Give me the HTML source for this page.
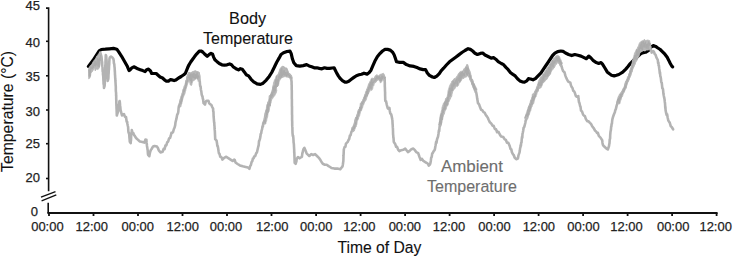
<!DOCTYPE html>
<html><head><meta charset="utf-8"><title>Body and Ambient Temperature</title>
<style>
html,body{margin:0;padding:0;background:#fff;}
body{width:733px;height:258px;overflow:hidden;}
svg{display:block;}
text{font-family:"Liberation Sans",sans-serif;}
</style></head><body>
<svg width="733" height="258" viewBox="0 0 733 258">
<g stroke="#111" stroke-width="1.6" fill="none" stroke-linecap="butt">
<path d="M46,8.1 H48.6 V191.3"/>
<path d="M48.2,202.7 V213"/>
<path d="M46,41.3 H48.6"/>
<path d="M46,75.8 H48.6"/>
<path d="M46,110.0 H48.6"/>
<path d="M46,143.7 H48.6"/>
<path d="M46,178.5 H48.6"/>
</g>
<path d="M47.4,213 H717.6" stroke="#111" stroke-width="2" fill="none"/>
<g stroke="#111" stroke-width="1.8" fill="none">
<path d="M49.0,213 V216"/>
<path d="M93.5,213 V216"/>
<path d="M138.0,213 V216"/>
<path d="M182.5,213 V216"/>
<path d="M227.0,213 V216"/>
<path d="M271.5,213 V216"/>
<path d="M316.1,213 V216"/>
<path d="M360.6,213 V216"/>
<path d="M405.1,213 V216"/>
<path d="M449.6,213 V216"/>
<path d="M494.1,213 V216"/>
<path d="M538.6,213 V216"/>
<path d="M583.1,213 V216"/>
<path d="M627.6,213 V216"/>
<path d="M672.1,213 V216"/>
<path d="M716.6,213 V216"/>
</g>
<g stroke="#111" stroke-width="1.3"><path d="M41,197.1 L55.5,191.6"/><path d="M41.6,200.8 L56.3,194.8"/></g>
<g font-family="Liberation Sans, sans-serif" font-size="13" fill="#222" stroke="#222" stroke-width="0.25" text-anchor="end">
<text x="40" y="10.1">45</text>
<text x="40" y="47.4">40</text>
<text x="40" y="81.2">35</text>
<text x="40" y="116.3">30</text>
<text x="40" y="147.7">25</text>
<text x="40" y="181.7">20</text>
</g>
<text x="34.3" y="215.7" font-family="Liberation Sans, sans-serif" font-size="13" fill="#222" stroke="#222" stroke-width="0.25" text-anchor="middle">0</text>
<g font-family="Liberation Sans, sans-serif" font-size="13.4" fill="#222" stroke="#222" stroke-width="0.25" text-anchor="middle">
<text x="47.40" y="230.9" textLength="32.4" lengthAdjust="spacingAndGlyphs">00:00</text>
<text x="91.70" y="230.9" textLength="32.4" lengthAdjust="spacingAndGlyphs">12:00</text>
<text x="137.75" y="230.9" textLength="32.4" lengthAdjust="spacingAndGlyphs">00:00</text>
<text x="182.75" y="230.9" textLength="32.4" lengthAdjust="spacingAndGlyphs">12:00</text>
<text x="226.05" y="230.9" textLength="32.4" lengthAdjust="spacingAndGlyphs">00:00</text>
<text x="272.15" y="230.9" textLength="32.4" lengthAdjust="spacingAndGlyphs">12:00</text>
<text x="316.20" y="230.9" textLength="32.4" lengthAdjust="spacingAndGlyphs">00:00</text>
<text x="359.35" y="230.9" textLength="32.4" lengthAdjust="spacingAndGlyphs">12:00</text>
<text x="404.85" y="230.9" textLength="32.4" lengthAdjust="spacingAndGlyphs">00:00</text>
<text x="449.05" y="230.9" textLength="32.4" lengthAdjust="spacingAndGlyphs">12:00</text>
<text x="494.45" y="230.9" textLength="32.4" lengthAdjust="spacingAndGlyphs">00:00</text>
<text x="538.85" y="230.9" textLength="32.4" lengthAdjust="spacingAndGlyphs">12:00</text>
<text x="583.55" y="230.9" textLength="32.4" lengthAdjust="spacingAndGlyphs">00:00</text>
<text x="626.55" y="230.9" textLength="32.4" lengthAdjust="spacingAndGlyphs">12:00</text>
<text x="673.15" y="230.9" textLength="32.4" lengthAdjust="spacingAndGlyphs">00:00</text>
<text x="715.65" y="230.9" textLength="32.4" lengthAdjust="spacingAndGlyphs">12:00</text>
</g>
<text x="379.4" y="252.5" font-family="Liberation Sans, sans-serif" font-size="16.2" fill="#111" text-anchor="middle" textLength="84" lengthAdjust="spacingAndGlyphs" stroke="#111" stroke-width="0.1">Time of Day</text>
<text transform="translate(12.9,111.4) rotate(-90)" x="0" y="0" font-family="Liberation Sans, sans-serif" font-size="16.2" fill="#111" text-anchor="middle" textLength="121" lengthAdjust="spacingAndGlyphs" stroke="#111" stroke-width="0.1">Temperature (°C)</text>
<text x="247.6" y="24.3" font-family="Liberation Sans, sans-serif" font-size="16.2" fill="#111" text-anchor="middle" textLength="37" lengthAdjust="spacingAndGlyphs" stroke="#111" stroke-width="0.1">Body</text>
<text x="248.0" y="43.5" font-family="Liberation Sans, sans-serif" font-size="16.2" fill="#111" text-anchor="middle" textLength="90" lengthAdjust="spacingAndGlyphs" stroke="#111" stroke-width="0.1">Temperature</text>
<text x="471.9" y="172.1" font-family="Liberation Sans, sans-serif" font-size="16.2" fill="#6e6e6e" text-anchor="middle" textLength="62" lengthAdjust="spacingAndGlyphs" stroke="#6e6e6e" stroke-width="0.1">Ambient</text>
<text x="472.0" y="191.6" font-family="Liberation Sans, sans-serif" font-size="16.2" fill="#6e6e6e" text-anchor="middle" textLength="90" lengthAdjust="spacingAndGlyphs" stroke="#6e6e6e" stroke-width="0.1">Temperature</text>
<polyline points="88.4,66.4 93.1,60.3 99.2,50.8 101.3,49.5 105.3,49.2 109.4,48.8 113.5,48.4 116.8,49.2 118.9,52.2 121.6,56.3 124.3,61 127,65.7 129,70.5 130,70.1 131.9,67.8 133.8,66.8 135.8,67.8 137.7,68.8 140.2,69.7 142.8,70.6 145.1,71.6 146.6,69.7 148.5,69.1 150.5,71 151.7,73.5 153.7,73.5 156.2,73.5 158.1,75.2 160.1,77 162.6,78 164.5,79.9 166.4,81.2 168.4,81.2 170.3,79.6 172.2,79.9 174.1,80.6 176,79.9 178.6,78 181.2,76.5 183.7,74.8 185.3,73.5 187.6,67.8 189,64.8 190.7,62 192.5,59.5 194.6,56.6 196.8,53.8 199.3,51.2 201,51 202.7,52 204.6,54 207.2,56.3 209.1,54.6 211,53.3 212.6,54.2 213.6,57.1 214.9,59.7 216.8,61.4 219.3,63.5 221.9,64.8 224.4,65.2 227,64.8 229.6,63.9 231.5,64.8 233.4,67 236,68.7 238.5,69.9 240.4,68.7 242.3,69.3 244.3,71.9 246.2,74.7 248.6,75.9 251.1,79.3 253.7,81.8 257.1,83.9 260.5,84.4 263.1,83.2 266.3,80.1 269.2,76.4 271.7,72.5 274.3,67.3 276.7,62.2 279.2,57.9 281,54.5 283.5,52.8 287,51.5 290,51.1 291.2,53.7 292.4,58.8 293.8,62.7 296.3,65.6 299.8,66.1 303.2,65.6 306.6,64.6 309.1,65.9 311.7,66.8 314.2,67.8 316.8,67.8 319.3,68.4 321.9,68.8 324.5,67.8 327,68.4 329.6,68.4 332.1,68 334.1,67.8 335.3,70.3 336.6,72.9 338.5,76.1 340.4,78.7 342.4,80.6 344.9,82.1 346.8,82.1 348.8,81.2 351.3,79.3 353.9,77.4 356.4,75.7 359,74.8 361.5,74.2 364,73.2 367.1,74.1 369,72.8 371,70.2 372.9,65.7 374.8,61.3 377.3,56.8 379.9,53.6 382.5,51 385,49.4 387.6,49.4 390.1,50.1 392.4,51.9 394,54.5 395.2,57.8 396.5,61.8 399.6,62.4 403.3,62.4 406.4,64.6 410.1,65.9 413.9,66.4 417,67.6 420.1,68.9 423.2,69.6 425.6,69.6 427.3,73 429.4,75.4 432.5,77 434.3,77.5 436.8,76.1 439.3,73.6 441.1,70.8 443.6,68.2 446.4,65 449.5,61.8 452.6,59.5 455.7,57.2 458.8,54.9 461.9,52.5 465,50.5 468.1,48.7 470.4,49.4 472.7,51 475,53.3 477.4,54.5 480.3,53.4 482.7,53 485,55 488.1,56.5 491.2,58.1 493.5,57.6 495.8,59.2 498.2,61.6 501.3,63.5 503.6,64.7 505.9,67.4 508.2,69.7 510.6,72.8 512.9,74.4 515.2,75.9 517.5,78.7 519.9,80.9 522.2,81.8 524.5,82.1 526.8,80.9 528.4,78.7 530.7,79 533,79.8 535.4,78.6 538.3,75.6 541,72.9 543.3,69.4 545.6,66 548,62.5 550.3,59 552.6,55.5 554.9,53.2 557.7,51.6 560.8,51 563.1,51.4 565.5,53 568.6,54.5 571.7,55.6 574.8,54.5 577.9,55.2 581,56.1 584.1,57.6 586.4,58.7 588.7,56.1 591,58 593.4,60.7 596.3,62.6 598.7,63.4 601,62.6 602.5,64.2 604.9,68 607.2,71.9 609.5,73.8 611.5,75.2 614.2,75.9 616.5,75.3 618.9,74.5 622.7,72.2 625.8,69.1 628.2,66.3 629.7,64.2 633,61 636.5,57.5 640.1,54.2 642.4,52.9 645.5,52.3 648.6,50.3 650.9,47.2 653.3,45.6 655.6,46.4 657.9,48 660.2,49.5 662.6,51.8 664.9,54.2 667.2,57.3 668.8,60.4 670.3,63.5 671.9,66.2 672.6,66.9" fill="none" stroke="#000" stroke-width="3.2" stroke-linejoin="round" stroke-linecap="round"/>
<polyline points="100.2,52.5 101.0,55.0 101.3,56.1 101.5,57.1 101.8,60.0 101.9,62.2 102.1,61.9 102.2,65.1 102.3,66.2 102.5,66.8 102.6,70.0 102.7,71.7 102.9,71.8 103.0,74.8 103.1,75.2 103.3,76.9 103.4,80.0 103.5,81.3 103.6,84.3 103.8,83.5 103.9,85.5 104.0,88.0 104.6,86.0 104.7,84.6 104.8,83.9 104.8,80.8 104.9,78.3 105.0,78.5 105.1,75.0 105.1,71.8 105.2,73.0 105.2,69.4 105.3,67.3 105.3,65.6 105.4,64.6 105.5,64.7 105.5,62.0 105.6,59.2 105.7,58.8 105.7,57.2 105.8,55.0 106.2,56.0 106.3,57.2 106.4,59.4 106.5,59.3 106.6,60.9 106.7,64.0 106.8,64.8 106.9,68.2 107.0,69.2 107.1,70.6 107.2,73.0 107.3,74.9 107.4,76.0 107.5,77.1 107.6,80.4 107.7,81.0 108.3,79.0 108.4,77.9 108.5,74.5 108.6,73.9 108.7,71.9 108.8,70.0 108.9,69.7 109.0,67.6 109.1,64.5 109.2,65.2 109.3,62.0 109.5,58.5 109.8,57.5 111.0,56.5 112.4,57.5 113.4,59.0 113.7,60.4 113.9,63.2 114.2,64.0 114.3,64.4 114.5,67.2 114.6,67.2 114.8,71.0 114.9,72.0 115.0,74.6 115.1,75.6 115.2,78.3 115.3,78.0 115.4,81.0 115.5,82.0 115.6,84.0 115.7,85.6 115.8,86.9 115.8,89.8 115.9,91.8 116.0,92.0 116.1,93.5 116.1,95.8 116.2,95.3 116.2,99.1 116.3,100.0 116.3,102.1 116.4,104.9 116.4,105.9 116.5,105.7 116.5,108.0 116.6,109.5 116.7,112.3 116.7,112.0 116.8,115.5 117.5,113.2 118.2,111.2 118.4,108.4 118.7,106.5 118.9,104.6 119.1,105.3 119.4,101.4 119.6,101.0 119.8,101.9 120.0,104.1 120.1,107.5 120.3,106.5 120.5,109.7 121.0,111.5 121.5,113.7 122.0,115.5 124.0,114.1 125.0,116.9 126.0,117.0 126.4,119.8 126.7,121.7 127.1,121.5 127.4,123.7 127.8,125.7 128.1,127.0 128.3,130.7 128.6,132.7 128.9,133.0 129.1,133.6 129.3,135.4 129.4,137.3 129.6,139.1 129.8,141.7 130.7,143.1 130.8,141.4 131.0,140.2 131.1,137.4 131.2,134.9 131.4,134.7 131.5,132.9 131.7,132.0 131.8,130.1 132.6,133.1 133.3,133.0 134.1,135.1 134.8,135.9 135.6,137.3 137.1,139.1 138.5,140.2 139.9,141.5 141.4,141.7 144.3,142.6 145.4,139.6 146.4,139.7 146.6,142.7 146.8,144.0 147.0,146.0 147.2,147.4 147.3,147.7 147.5,149.4 147.7,150.1 147.9,153.6 148.1,154.8 149.3,156.2 149.9,152.9 150.4,151.1 151.0,149.8 151.6,149.0 153.1,146.4 154.5,146.0 157.0,146.6 157.9,148.0 158.8,150.4 160.5,152.4 162.6,151.7 163.6,148.9 164.6,149.2 165.4,145.6 166.3,145.4 167.2,142.3 168.1,141.6 169.1,138.3 170.1,137.8 170.8,135.7 171.4,132.9 172.1,132.8 173.0,132.2 173.9,129.0 174.6,127.5 175.2,125.2 175.5,122.4 175.8,121.2 176.1,120.0 176.4,118.9 176.8,116.8 177.3,114.3 177.7,113.9 178.0,113.2 178.3,111.8 178.6,108.1 178.9,106.3 179.6,104.4 180.2,102.6 180.9,99.6 181.6,99.4 182.1,96.1 182.6,95.6 183.2,93.2 183.8,91.9 184.4,89.2 185.0,88.1 185.6,87.4 186.1,84.4 186.6,81.3 187.2,80.6 187.7,76.7 188.2,76.0 189.5,73.5 191.0,74.0 192.5,73.0 194.5,72.5 196.5,72.5 198.5,73.0 199.3,76.0 199.4,79.2 199.5,79.4 199.6,81.0 199.8,81.5 200.0,84.6 200.2,86.2 200.6,86.3 200.9,89.7 201.3,91.3 201.7,94.6 202.1,95.9 202.5,96.4 202.8,98.8 203.1,99.0 203.3,101.0 203.6,103.2 205.0,104.6 205.8,101.5 206.7,100.7 208.4,100.7 209.2,103.3 210.1,104.1 211.4,105.0 212.2,107.0 213.1,108.7 213.2,111.3 213.4,111.4 213.5,112.6 213.6,116.2 213.8,118.5 213.9,119.6 214.0,121.1 214.2,122.8 214.3,123.3 214.4,125.9 214.5,125.9 214.6,128.7 214.7,129.9 214.8,130.5 214.9,132.3 215.0,134.9 215.1,136.6 215.2,139.2 216.6,140.7 217.0,143.2 217.3,145.9 217.7,146.0 218.1,148.0 218.6,151.4 219.0,153.5 219.5,153.8 220.2,156.8 221.0,156.7 221.7,157.7 222.4,159.6 223.9,158.1 225.9,156.7 228.3,158.1 230.6,159.6 232.6,161.0 234.1,159.6 234.8,160.1 235.5,162.5 237.6,164.0 239.9,165.4 242.8,166.3 245.7,166.9 248.0,167.4 249.4,168.8 250.2,166.0 250.9,165.0 251.6,162.0 252.3,161.1 252.9,158.5 253.6,158.4 254.2,156.4 255.2,156.2 256.2,153.2 256.9,152.5 257.6,149.5 258.0,147.7 258.3,146.5 258.7,145.2 259.0,141.0 259.4,140.7 259.7,139.5 260.0,138.7 260.4,136.6 260.7,133.9 261.2,133.2 261.6,130.6 262.1,129.1 262.5,126.3 262.9,126.7 263.2,123.4 263.6,122.3 264.1,121.4 264.7,120.0 265.2,116.5 265.6,114.2 266.1,112.3 266.5,110.7 267.0,110.6 267.4,108.2 267.9,105.8 268.5,102.7 269.1,101.9 270.0,100.0 270.7,97.1 271.3,95.5 272.0,95.0 272.5,94.6 273.0,92.5 273.5,88.5 274.0,88.0 274.7,87.1 275.3,85.6 276.0,82.0 276.7,80.9 277.3,78.2 278.0,77.0 279.0,75.2 280.0,73.0 281.0,69.7 282.0,69.0 283.5,67.5 285.0,69.0 286.2,68.8 287.5,72.0 288.5,74.9 289.5,74.5 291.0,76.5 291.2,78.8 291.4,80.3 291.6,82.0 291.6,85.1 291.7,85.0 291.7,88.1 291.7,89.6 291.7,89.1 291.8,90.9 291.8,92.7 291.8,95.0 291.8,95.8 291.8,98.6 291.9,99.2 291.9,101.4 291.9,102.1 291.9,106.4 292.0,106.2 292.0,108.2 292.0,110.0 292.0,112.0 292.0,114.7 292.1,114.7 292.1,118.1 292.1,118.3 292.1,120.1 292.2,121.7 292.2,121.7 292.2,125.0 292.3,126.7 292.4,127.8 292.4,129.2 292.5,132.8 292.8,135.8 293.1,135.6 293.4,138.6 293.5,140.1 293.6,142.6 293.8,143.6 293.9,144.5 294.0,146.7 294.1,148.3 294.2,150.1 294.2,152.5 294.3,151.8 294.4,154.9 294.4,155.5 294.5,157.2 294.6,160.5 294.6,161.2 294.7,162.8 295.7,163.8 296.0,162.4 296.4,161.4 296.7,158.9 298.0,157.0 299.6,158.3 301.5,157.0 301.9,156.8 302.3,153.7 302.6,152.7 303.0,150.8 303.4,149.2 304.4,147.9 305.1,149.6 305.8,151.2 306.6,153.3 307.3,154.1 309.3,156.0 311.2,154.1 313.1,155.0 315.1,154.1 317.0,156.0 318.9,157.9 319.9,159.2 320.9,160.9 321.9,162.5 322.8,163.8 324.8,164.7 326.7,164.7 328.6,166.1 330.1,167.0 331.5,168.0 334.4,168.6 337.4,168.6 340.3,169.2 342.2,166.7 342.5,166.6 342.9,164.2 343.2,162.0 343.3,161.5 343.4,160.0 343.5,155.9 343.5,155.2 343.6,154.7 343.7,152.6 343.8,149.7 344.6,147.0 345.4,146.8 346.0,143.6 346.7,142.9 347.7,141.9 348.4,140.3 349.2,139.0 349.9,135.6 350.6,135.1 351.3,132.2 352.0,131.0 352.6,128.0 353.1,128.6 353.7,126.5 354.3,125.6 354.9,124.2 355.5,121.0 356.2,118.0 356.8,118.1 357.5,115.5 358.2,114.2 359.0,110.6 359.7,110.0 360.3,109.6 360.9,108.3 361.5,105.0 362.3,102.4 363.0,103.2 363.8,100.0 364.5,98.2 365.1,97.0 365.8,95.5 366.5,95.7 367.1,93.6 367.8,91.0 368.5,88.3 369.1,87.8 369.8,86.5 370.6,84.6 371.5,82.5 373.0,80.5 375.0,78.5 377.0,77.2 379.0,77.5 381.0,76.2 383.0,75.5 384.6,78.0 384.7,79.3 384.7,80.7 384.8,83.0 384.8,86.3 384.9,87.4 384.9,87.5 385.0,91.0 385.1,92.3 385.1,92.5 385.1,95.3 385.2,97.9 385.2,99.3 385.3,100.9 386.1,101.4 386.8,104.8 387.8,108.4 388.8,108.7 389.4,108.0 389.8,110.9 390.3,113.5 390.7,113.8 391.2,114.4 391.8,116.9 392.3,119.6 392.4,120.0 392.6,124.4 392.7,124.7 392.8,127.4 392.9,128.1 393.0,131.0 393.1,134.6 393.2,135.1 393.4,137.9 393.5,137.7 393.6,139.0 393.8,141.9 395.2,143.9 396.1,146.8 397.1,146.8 398.1,149.7 399.4,151.2 401.3,150.2 403.2,149.8 405.2,148.6 406.5,150.2 407.9,152.1 409.4,151.2 411.4,149.2 413.3,148.6 414.9,150.2 416.2,152.1 418.2,153.1 418.9,155.3 419.5,157.0 420.7,159.9 422.0,158.9 423.4,160.9 424.9,161.8 426.5,162.8 427.9,163.8 428.8,165.7 429.8,164.7 430.3,163.5 430.8,160.9 431.2,157.6 431.7,157.0 432.2,153.5 432.7,153.1 433.7,151.2 434.6,150.2 434.9,149.2 435.3,146.7 435.6,145.3 436.1,141.9 436.5,142.9 437.0,139.5 437.5,138.0 438.0,136.7 438.5,133.7 438.9,130.4 439.2,131.1 439.6,126.5 440.0,126.0 440.3,125.3 440.6,122.0 440.9,119.8 441.2,118.4 441.6,117.0 442.0,116.6 442.5,112.7 442.9,111.9 443.4,109.1 444.0,108.8 444.6,106.3 445.1,105.6 445.7,102.7 446.4,101.3 447.0,99.4 447.6,99.4 448.2,96.8 448.7,95.6 449.2,94.0 449.8,93.1 450.5,92.1 451.3,88.7 452.0,87.5 452.8,86.0 453.7,83.4 454.5,83.0 456.0,81.0 457.5,80.0 459.0,76.6 460.5,76.5 462.0,73.9 463.5,73.0 464.5,69.6 465.5,69.5 466.4,68.8 467.2,66.5 467.9,68.7 468.5,70.5 469.0,71.3 469.5,74.1 470.0,76.0 470.6,79.5 471.3,80.0 472.0,80.2 472.6,84.2 473.3,84.7 474.0,86.0 474.6,87.7 475.3,89.3 475.7,92.0 476.1,92.1 476.5,94.0 476.9,96.3 477.2,98.6 477.6,100.8 478.0,103.4 478.4,103.3 479.2,104.7 480.0,107.1 481.1,109.8 482.3,110.2 483.5,112.1 484.6,112.6 485.8,115.0 486.9,116.4 487.7,117.6 488.5,119.5 489.9,122.3 491.2,123.4 492.5,125.6 493.6,125.7 494.8,128.9 496.0,129.3 497.1,132.2 498.5,131.9 499.8,134.5 501.1,136.5 502.4,136.8 503.5,137.3 504.7,139.4 505.9,139.9 507.0,142.7 508.4,142.9 509.7,146.0 510.5,148.8 511.3,149.3 511.9,152.2 512.4,153.2 513.0,154.3 513.8,155.2 514.6,157.5 516.2,159.2 517.9,158.5 518.4,155.7 519.0,153.9 519.5,152.6 519.8,150.8 520.1,148.1 520.4,147.5 520.6,145.2 520.9,145.9 521.2,142.7 521.5,142.7 521.7,139.6 522.0,136.9 522.3,137.7 522.5,133.8 522.8,132.8 523.2,130.7 523.6,127.8 524.1,127.4 524.5,126.2 524.9,124.5 525.3,123.0 525.7,120.3 526.1,119.7 526.7,118.0 527.2,114.7 527.8,114.7 528.2,112.3 528.6,110.2 529.0,110.0 529.7,107.7 530.3,104.4 531.0,104.0 531.7,100.4 532.3,99.3 533.0,98.0 533.7,95.6 534.3,95.3 535.0,93.5 535.8,91.9 536.7,91.0 537.5,88.5 538.8,87.3 540.0,85.0 541.2,83.7 542.5,81.0 543.8,80.3 545.0,77.0 546.0,75.1 547.0,74.0 548.2,71.9 549.5,71.0 550.3,71.0 551.2,66.5 552.0,66.0 552.8,65.3 553.7,63.5 554.5,61.5 555.5,58.7 556.5,59.0 557.5,58.0 559.5,60.0 560.0,62.7 560.5,64.5 561.1,65.2 561.6,66.3 562.3,68.9 563.1,71.0 563.8,71.7 564.5,72.3 565.3,75.4 566.0,77.2 567.0,79.4 568.1,81.5 570.3,82.6 571.0,85.5 571.8,87.2 572.5,88.0 573.2,90.6 574.0,91.2 574.7,92.4 575.8,95.9 576.8,96.7 578.3,96.1 578.5,98.8 578.8,100.8 579.0,102.2 579.5,103.2 580.1,106.0 580.5,106.7 581.0,110.6 582.0,111.4 583.1,114.7 584.0,115.6 584.9,116.1 585.8,118.8 587.2,121.2 588.6,121.4 589.9,122.9 591.1,124.0 592.0,125.8 592.8,127.2 593.7,128.2 595.0,130.5 596.2,131.6 597.1,133.0 597.9,132.8 598.8,135.9 600.5,137.6 602.2,140.2 602.5,142.9 602.8,144.4 603.1,145.3 604.8,147.0 606.5,148.7 607.8,149.5 608.4,147.8 609.0,146.1 609.2,144.5 609.5,143.2 609.7,139.5 609.9,139.3 610.1,138.4 610.2,135.1 610.4,132.8 610.5,131.7 610.7,130.8 610.9,129.9 611.2,126.3 611.4,126.4 611.6,123.9 611.9,123.8 612.2,120.5 612.5,118.8 613.1,116.7 613.6,115.3 614.2,113.7 614.8,112.5 615.3,110.1 615.8,109.3 616.3,107.1 616.8,105.0 617.4,103.8 618.0,100.2 618.6,100.0 619.3,97.3 620.0,97.0 620.9,94.3 621.9,94.2 622.8,91.5 623.7,89.1 624.6,88.2 625.5,86.2 626.0,83.0 626.6,81.6 627.2,80.8 627.7,80.0 628.3,79.0 628.9,77.6 629.5,75.9 630.1,73.8 630.6,71.5 631.2,70.8 631.8,69.0 632.3,67.6 632.9,65.6 633.4,62.6 634.0,62.0 634.8,61.3 635.5,58.0 636.2,55.3 636.8,56.3 637.5,53.0 638.5,52.5 639.5,49.0 640.2,45.6 641.0,45.5 642.0,44.1 643.0,43.0 645.0,43.0 647.0,43.0 649.0,43.0 649.6,45.8 650.2,46.4 650.7,50.1 651.2,50.4 651.7,52.6 653.3,51.1 654.0,51.9 654.8,54.2 655.6,54.8 656.4,57.3 657.8,60.0 658.1,63.2 658.4,62.4 658.6,65.3 658.9,65.5 659.2,68.4 659.5,70.2 659.8,73.3 660.0,72.2 660.3,76.2 660.6,76.8 660.9,78.5 661.2,81.4 661.4,82.5 661.7,82.5 662.0,85.1 662.3,88.1 662.6,88.4 662.8,88.5 663.1,90.1 663.4,93.5 663.7,95.2 664.0,96.7 664.2,97.9 664.5,99.0 664.8,101.9 665.0,103.0 665.1,104.6 665.3,108.1 665.4,106.9 665.6,110.3 666.1,112.9 666.6,115.0 667.1,114.3 667.6,117.3 668.3,120.6 669.1,121.7 669.8,122.8 670.8,126.3 671.7,127.0 673.1,129.3" fill="none" stroke="#b3b3b3" stroke-width="2.6" stroke-linejoin="round" stroke-linecap="round"/>
<polygon points="88.6,68.0 89.3,67.1 90.1,65.9 90.9,64.9 91.8,64.5 92.6,62.5 93.4,61.3 94.2,60.2 95.1,59.2 95.9,57.9 96.8,55.9 97.6,55.3 98.5,53.9 99.8,52.0 100.6,54.0 100.6,55.6 100.5,57.3 100.5,57.2 100.5,58.9 100.4,59.8 100.4,62.0 100.2,64.0 100.0,65.1 99.8,66.0 99.2,68.3 97.8,69.6 96.5,68.9 95.2,70.9 94.7,68.7 94.2,68.3 93.2,70.2 91.9,72.2 91.0,72.9 90.7,75.2 90.5,76.4 90.2,77.1 89.9,78.1 88.6,78.8 88.6,77.7 88.6,75.4 88.6,73.8 88.6,73.5 88.6,71.2 88.6,70.1 88.6,68.8 88.6,68.0" fill="#b7b7b7" stroke="#b7b7b7" stroke-width="0.8" stroke-linejoin="round"/>
<polygon points="178.6,107.0 178.9,105.7 179.2,104.7 179.4,104.2 179.7,102.1 180.0,101.0 180.3,99.8 180.6,98.6 181.0,96.4 181.3,95.7 181.7,94.6 182.0,93.0 182.4,92.3 182.8,89.6 183.3,88.8 183.7,87.9 184.1,85.8 184.6,86.0 185.0,84.5 185.4,82.8 185.7,80.6 186.0,81.2 186.3,79.9 186.6,77.7 186.9,76.8 187.3,75.6 187.6,74.2 188.8,72.2 190.5,73.0 192.2,71.8 193.9,71.2 195.2,70.5 196.5,71.2 198.7,72.0 199.1,72.5 199.5,75.0 199.5,76.3 199.6,76.6 199.6,78.1 199.6,80.0 198.2,81.5 197.8,79.7 197.3,79.0 196.1,78.6 194.8,80.0 193.7,80.7 192.5,81.5 192.2,82.7 191.8,84.9 191.5,85.5 190.3,85.0 189.9,83.3 189.5,81.5 188.5,81.5 188.0,82.9 187.6,83.8 187.1,85.0 186.8,86.6 186.4,87.4 186.1,88.3 185.7,91.0 185.4,91.3 185.0,93.6 184.6,94.5 184.1,95.5 183.7,96.4 183.3,97.3 183.0,98.4 182.6,99.8 182.2,100.6 181.9,103.3 181.5,104.0 181.2,105.3 180.8,107.0 178.6,107.0" fill="#b7b7b7" stroke="#b7b7b7" stroke-width="0.8" stroke-linejoin="round"/>
<polygon points="263.0,124.0 263.3,122.7 263.6,121.7 263.8,121.2 264.1,119.1 264.4,117.9 264.8,116.5 265.1,115.3 265.4,113.1 265.8,112.3 266.0,110.9 266.1,109.8 266.3,108.7 266.5,106.7 267.0,104.5 267.6,103.6 268.1,101.8 268.6,101.2 268.8,100.4 268.9,98.8 269.1,96.1 269.2,95.6 270.0,95.4 270.7,94.1 271.5,92.0 271.8,91.1 272.2,89.8 272.5,88.4 272.8,86.4 273.1,84.8 273.3,84.5 273.6,82.2 273.9,81.8 274.5,79.8 275.2,79.1 275.7,77.3 276.3,75.6 276.8,75.2 278.1,74.5 278.6,72.8 279.1,71.2 279.8,69.4 280.4,67.9 281.8,66.6 283.1,66.0 284.1,67.9 285.5,69.2 287.0,70.6 288.4,72.5 289.7,73.9 291.0,75.2 291.7,77.3 292.4,78.0 291.4,79.0 290.5,80.0 289.7,77.8 287.7,77.2 286.4,77.1 285.1,76.5 283.1,77.2 281.8,77.8 280.4,79.1 279.8,80.4 279.1,81.8 278.9,83.4 278.7,84.3 278.5,85.7 277.5,86.2 276.5,87.5 276.7,89.7 276.9,90.0 276.4,92.4 275.9,93.5 275.3,94.6 274.8,95.6 274.1,96.4 273.4,97.3 272.7,98.5 272.0,99.2 271.3,101.2 271.0,103.1 270.6,103.8 270.3,106.0 270.0,106.7 269.6,107.9 269.3,110.4 269.0,111.6 268.6,112.3 268.2,112.7 267.9,114.5 267.6,117.3 267.2,117.9 266.9,119.1 266.6,121.3 266.4,121.4 266.1,121.9 265.8,124.0 264.4,124.3 263.0,124.0" fill="#b7b7b7" stroke="#b7b7b7" stroke-width="0.8" stroke-linejoin="round"/>
<polygon points="351.6,131.0 352.0,129.8 352.4,128.8 352.9,128.4 353.3,126.4 353.7,125.3 354.1,123.9 354.4,122.7 354.8,120.5 355.1,119.7 355.6,118.3 356.1,117.2 356.7,116.1 357.2,114.1 357.7,111.9 358.2,111.0 358.8,109.2 359.3,108.6 359.6,107.8 360.0,106.2 360.3,103.5 360.6,103.0 361.5,102.6 362.3,101.3 363.2,99.0 363.7,98.0 364.2,96.6 364.7,94.3 365.2,93.7 365.7,91.4 366.2,91.1 366.7,88.8 367.2,88.4 367.7,86.5 368.2,85.2 368.7,83.5 369.2,83.1 369.7,81.9 370.2,80.7 370.7,80.3 371.2,78.5 372.5,77.9 373.8,79.2 374.5,77.6 375.1,75.9 377.1,74.6 378.4,75.9 379.7,74.6 381.7,73.9 383.4,73.2 384.3,74.6 384.7,76.0 385.1,76.9 385.5,78.0 385.0,79.6 384.5,80.5 383.7,80.5 383.0,79.2 382.4,80.4 381.7,81.8 380.4,83.1 379.8,81.0 379.1,79.8 377.1,80.5 375.8,82.5 374.4,83.1 373.8,85.7 373.1,86.4 372.7,88.7 372.2,89.7 371.8,90.4 370.5,89.7 369.8,91.4 369.2,92.0 368.5,93.7 368.0,94.5 367.5,95.9 367.0,96.8 366.5,99.0 365.7,100.9 364.9,101.5 364.1,103.0 363.6,105.1 363.1,105.6 362.5,108.1 362.0,108.6 361.5,110.7 361.0,110.4 360.5,112.1 360.0,114.1 359.5,116.3 358.9,116.8 358.4,119.3 357.9,119.7 357.5,120.9 357.2,121.6 356.9,124.2 356.5,125.3 356.1,127.0 355.7,127.1 355.2,127.9 354.8,129.5 354.4,131.0 353.0,131.9 351.6,131.0" fill="#b7b7b7" stroke="#b7b7b7" stroke-width="0.8" stroke-linejoin="round"/>
<polygon points="438.8,125.0 439.0,123.6 439.2,122.5 439.4,121.8 439.5,119.6 439.7,118.3 439.9,117.0 440.2,115.9 440.5,113.9 440.8,113.3 441.1,112.3 441.4,110.8 441.8,109.9 442.1,106.9 442.5,106.2 443.0,104.6 443.5,103.0 444.0,103.3 444.5,101.5 445.1,100.7 445.7,98.3 446.3,99.0 446.9,96.9 447.2,96.6 447.5,94.7 447.8,93.3 448.0,91.1 448.3,89.6 448.6,89.3 448.9,88.0 449.5,85.9 450.0,84.9 450.6,83.7 451.2,83.0 451.9,81.0 452.6,80.7 453.4,79.6 454.1,78.6 455.2,78.5 456.3,77.1 457.0,76.0 457.6,75.2 458.3,73.8 459.0,72.7 460.7,71.3 462.0,71.2 463.4,70.5 464.4,69.8 464.9,68.4 465.5,66.8 466.1,66.9 466.6,64.6 467.8,64.6 468.1,66.9 468.3,67.9 468.6,68.9 468.8,69.8 469.6,70.9 470.3,72.7 470.6,73.3 470.9,74.6 471.2,75.4 471.5,78.0 471.8,78.6 472.5,79.9 473.2,81.6 473.8,83.4 474.4,83.6 474.9,85.8 475.5,86.0 476.0,88.2 476.5,87.9 477.0,90.4 475.8,90.1 474.5,91.0 474.0,90.6 473.5,88.4 473.0,88.2 472.5,86.0 472.1,84.6 471.6,82.8 471.2,82.7 470.7,81.8 470.3,80.1 469.6,78.5 468.9,77.1 468.1,76.5 467.4,75.7 466.2,77.3 465.1,77.1 464.0,78.4 462.9,78.6 462.2,78.8 461.4,80.1 460.7,81.6 460.0,82.0 459.2,83.1 458.5,85.2 457.5,86.6 456.6,86.1 455.6,87.5 454.9,88.7 454.1,89.6 453.4,90.2 452.6,91.9 452.3,93.6 452.1,93.7 451.8,95.9 451.5,96.9 450.9,97.3 450.4,99.0 449.8,99.8 449.2,101.5 448.7,102.2 448.2,104.8 447.7,105.6 447.2,106.2 446.7,107.0 446.2,109.3 445.8,109.1 445.3,110.8 444.8,111.8 444.4,114.0 443.9,114.8 443.5,115.0 443.0,117.0 442.7,119.3 442.5,119.1 442.2,120.5 441.9,122.9 441.7,123.3 441.4,125.0 440.1,124.6 438.8,125.0" fill="#b7b7b7" stroke="#b7b7b7" stroke-width="0.8" stroke-linejoin="round"/>
<polygon points="524.6,118.0 525.0,116.6 525.5,115.5 525.9,114.9 526.4,112.7 526.8,111.5 527.2,110.3 527.7,109.3 528.1,107.3 528.6,106.8 529.0,105.6 529.5,104.7 529.9,103.8 530.4,101.2 530.8,100.5 531.3,99.7 531.6,97.7 531.9,98.0 532.1,96.5 532.4,94.1 532.7,93.8 533.5,93.7 534.2,92.5 535.0,90.8 535.7,89.4 536.2,88.5 536.7,86.4 537.2,86.0 537.6,83.8 538.0,83.5 538.4,81.3 538.8,80.3 539.2,79.7 539.9,78.2 540.5,76.8 541.2,76.6 541.9,75.7 542.8,74.3 543.6,73.8 544.5,71.8 545.4,70.5 546.2,69.4 547.1,67.8 548.0,66.5 548.9,65.5 549.8,63.9 550.4,62.7 551.1,61.3 551.7,60.6 552.7,60.2 553.7,57.9 554.7,57.9 555.7,56.0 557.7,55.3 559.6,56.6 560.3,58.9 561.0,59.9 561.4,61.5 561.9,61.9 562.3,63.5 561.8,64.2 561.3,66.0 560.3,66.5 559.6,64.8 559.0,63.9 557.7,62.5 556.4,64.5 555.7,64.6 555.0,66.5 554.0,68.3 553.1,69.1 552.1,70.3 551.1,71.8 550.5,74.1 549.8,75.1 548.8,76.2 547.8,77.7 546.8,79.6 545.8,79.7 544.8,81.7 543.8,82.3 543.2,82.5 542.5,84.2 541.9,86.0 540.8,88.0 539.7,88.2 538.6,89.4 538.2,91.5 537.7,91.6 537.3,92.1 536.8,94.4 536.4,95.3 536.0,97.0 535.5,97.2 535.1,98.0 534.6,99.6 534.2,101.1 533.8,103.2 533.3,104.0 532.9,103.9 532.4,105.3 532.0,107.0 531.6,107.4 531.1,108.5 530.7,111.1 530.2,111.1 529.8,112.9 529.4,114.2 528.9,115.2 528.5,115.9 528.0,118.2 527.6,119.0 526.1,117.8 524.6,118.0" fill="#b7b7b7" stroke="#b7b7b7" stroke-width="0.8" stroke-linejoin="round"/>
<polygon points="616.5,104.0 616.8,102.5 617.1,101.3 617.5,100.6 617.8,98.3 618.1,97.0 618.9,95.5 619.6,93.9 620.6,93.0 621.7,91.2 622.7,90.8 623.1,89.7 623.5,88.8 623.9,87.9 624.3,86.2 624.8,84.1 625.2,83.3 625.7,81.7 626.1,81.9 626.6,80.0 627.1,79.1 627.5,76.6 628.0,77.2 628.4,76.0 628.9,73.8 629.4,72.7 629.8,71.3 630.3,69.0 630.7,67.4 631.2,67.0 631.5,65.8 631.8,63.7 632.1,62.7 632.3,61.6 632.6,59.9 632.9,59.6 633.2,58.4 633.5,57.0 633.9,56.4 634.2,54.5 634.5,53.1 635.2,52.1 635.8,50.5 636.5,49.2 637.2,48.4 637.8,46.9 638.5,45.9 639.1,43.8 639.8,42.6 641.1,41.3 643.1,40.6 644.4,39.3 645.7,40.6 647.7,40.0 649.7,40.6 650.1,43.3 650.5,44.0 650.4,46.5 650.4,47.7 650.3,48.5 649.1,49.7 648.0,50.0 646.5,50.1 645.0,51.0 643.5,50.6 642.0,51.3 640.4,52.5 639.9,53.2 639.5,53.9 639.0,56.5 638.5,57.1 637.8,58.2 637.2,60.4 636.5,61.0 635.8,62.1 635.2,64.6 634.5,65.0 634.0,67.0 633.6,67.6 633.1,67.8 632.7,69.5 632.2,72.1 631.8,72.5 631.3,73.8 630.8,76.0 630.3,76.1 629.9,76.7 629.4,79.0 628.9,80.0 628.4,81.8 628.0,82.0 627.5,82.9 627.1,84.6 626.6,86.2 626.1,88.4 625.7,89.2 625.2,89.2 624.8,90.7 624.3,92.4 623.7,92.8 623.1,93.8 622.6,96.4 622.0,97.0 621.6,97.5 621.2,99.5 620.8,100.4 620.4,101.0 620.0,103.3 619.6,104.0 618.0,103.3 616.5,104.0" fill="#b7b7b7" stroke="#b7b7b7" stroke-width="0.8" stroke-linejoin="round"/>
<polyline points="88.60,69.50 89.17,76.44 89.77,69.62 90.12,76.39 90.82,66.37 91.26,69.20 91.79,66.76 92.33,69.00 92.73,64.83 93.44,67.60 94.10,62.91 94.45,65.96 95.04,60.89 95.39,66.38 95.93,61.46 96.64,65.32 97.38,58.13 98.06,66.46 98.80,58.74 99.18,66.99 99.60,57.78 100.12,60.83 100.59,54.68" fill="none" stroke="#aaaaaa" stroke-width="0.9" stroke-linejoin="miter" stroke-miterlimit="2"/>
<polyline points="178.60,107.60 178.98,106.18 179.37,104.40 179.88,104.66 180.56,101.56 180.99,103.87 181.44,96.38 181.82,101.61 182.56,94.55 183.24,94.94 183.66,89.55 184.26,91.93 184.97,87.31 185.34,89.09 185.96,82.57 186.37,85.61 186.74,80.79 187.45,81.72 187.91,77.23 188.49,78.19 189.20,74.61 189.71,79.77 190.23,74.14 190.69,81.07 191.04,73.42 191.65,83.06 192.21,74.18 192.69,77.37 193.11,73.47 193.53,78.13 193.98,72.96 194.64,78.50 195.22,74.53 195.59,78.90 196.02,74.03 196.62,78.00 197.10,72.49 197.63,79.19 198.27,75.45 199.02,78.11" fill="none" stroke="#aaaaaa" stroke-width="0.9" stroke-linejoin="miter" stroke-miterlimit="2"/>
<polyline points="263.00,124.60 263.66,122.60 264.40,120.08 265.14,123.31 265.67,117.11 266.29,117.03 266.67,109.15 267.11,115.20 267.69,104.24 268.11,112.49 268.85,102.82 269.25,105.15 269.64,98.37 270.02,105.99 270.74,94.56 271.16,98.00 271.88,92.22 272.63,96.34 273.26,86.38 274.00,92.58 274.76,85.52 275.22,91.17 275.62,79.37 275.98,88.03 276.57,76.36 277.20,86.91 277.67,79.11 278.21,84.51 278.75,75.83 279.11,77.56 279.45,73.74 280.15,78.95 280.83,69.54 281.41,77.53 281.76,67.94 282.51,76.10 283.17,70.33 283.92,75.19 284.40,70.36 285.08,75.62 285.74,72.04 286.44,76.17 287.19,71.66 287.67,75.38 288.40,73.69 289.14,76.21 289.61,74.84 290.02,77.95 290.41,76.45 291.18,78.47 291.53,77.78 292.10,77.59" fill="none" stroke="#aaaaaa" stroke-width="0.9" stroke-linejoin="miter" stroke-miterlimit="2"/>
<polyline points="351.60,131.60 352.29,130.08 352.74,128.51 353.36,129.61 354.02,125.52 354.69,128.76 355.37,121.97 355.89,124.60 356.52,117.15 357.09,119.93 357.54,116.05 358.17,116.19 358.65,111.15 359.33,113.20 359.85,107.08 360.27,110.77 360.73,106.50 361.32,109.27 361.94,102.53 362.68,103.97 363.23,100.95 363.87,101.21 364.63,95.88 365.12,99.15 365.58,94.90 365.95,96.78 366.51,91.18 367.14,95.76 367.55,89.55 367.94,93.94 368.65,87.31 368.99,89.65 369.33,84.49 370.05,87.94 370.52,81.94 371.02,88.89 371.79,79.06 372.31,85.41 372.81,81.93 373.25,82.89 373.97,80.64 374.69,81.43 375.39,78.25 375.95,80.53 376.59,76.44 376.95,78.55 377.40,76.44 378.08,79.28 378.42,76.66 379.01,78.66 379.45,76.37 380.19,81.23 380.70,77.48 381.30,80.84 381.84,75.73 382.23,79.21 382.69,75.87 383.16,77.47 383.92,76.71 384.42,78.72 384.89,77.32 385.43,77.47" fill="none" stroke="#aaaaaa" stroke-width="0.9" stroke-linejoin="miter" stroke-miterlimit="2"/>
<polyline points="438.80,125.60 439.20,123.74 439.56,121.12 440.05,124.23 440.60,114.84 441.12,124.08 441.49,113.11 442.19,119.88 442.62,109.38 443.36,113.03 443.87,107.58 444.22,109.65 444.67,102.34 445.06,109.67 445.75,100.38 446.33,105.40 446.83,99.57 447.18,105.42 447.60,97.10 448.12,102.05 448.71,91.64 449.17,97.03 449.81,87.84 450.39,95.88 451.11,87.50 451.56,91.15 451.95,84.37 452.61,90.70 453.15,80.79 453.78,86.61 454.36,82.36 454.83,85.47 455.42,80.34 455.95,83.72 456.70,78.74 457.32,85.31 457.96,77.54 458.72,80.87 459.18,74.71 459.80,82.38 460.34,72.82 460.72,80.76 461.39,72.13 461.82,78.22 462.54,71.59 463.07,76.37 463.78,73.06 464.49,76.14 465.01,70.07 465.73,72.75 466.12,66.99 466.55,74.67 467.10,67.53 467.54,75.30 468.06,67.93 468.64,74.10 469.27,72.72 469.87,77.06 470.23,75.50 470.90,79.07 471.58,79.13 472.09,84.08 472.70,81.25 473.06,86.34 473.46,83.44 473.81,88.67 474.21,84.36 474.70,90.29 475.41,87.49 475.81,89.75 476.29,89.20 476.67,89.57" fill="none" stroke="#aaaaaa" stroke-width="0.9" stroke-linejoin="miter" stroke-miterlimit="2"/>
<polyline points="524.60,118.60 525.35,117.54 525.99,114.62 526.43,115.90 526.85,113.62 527.39,116.90 527.93,109.70 528.63,115.25 529.06,106.11 529.51,111.76 530.24,104.26 530.62,109.27 531.38,100.15 531.99,105.09 532.61,96.12 533.24,101.21 533.86,95.83 534.44,99.40 534.80,94.23 535.35,96.92 536.09,90.65 536.74,91.51 537.20,87.50 537.92,90.28 538.58,82.51 539.22,85.93 539.96,81.95 540.51,86.16 540.91,79.59 541.47,85.60 542.19,77.67 542.83,82.83 543.27,74.29 543.75,80.91 544.27,74.01 544.96,77.16 545.37,72.42 545.77,76.84 546.53,70.00 547.20,76.58 547.54,70.66 548.02,76.17 548.54,67.22 549.05,73.75 549.56,67.14 550.02,73.58 550.39,63.88 550.95,70.30 551.63,63.15 552.27,66.05 552.63,60.01 553.02,67.20 553.60,61.33 554.09,63.70 554.42,60.76 554.84,63.08 555.19,60.38 555.85,61.45 556.44,56.88 557.19,61.47 557.56,57.51 558.11,61.12 558.51,56.77 559.09,62.24 559.48,58.40 560.13,63.47 560.66,60.70 561.15,65.02 561.57,62.68 561.95,63.31" fill="none" stroke="#aaaaaa" stroke-width="0.9" stroke-linejoin="miter" stroke-miterlimit="2"/>
<polyline points="616.50,104.60 616.99,103.30 617.71,99.34 618.26,101.10 618.62,98.09 619.22,103.27 619.72,96.81 620.25,99.26 620.65,94.13 621.03,97.93 621.76,93.57 622.43,94.85 623.09,90.45 623.55,91.99 624.20,87.99 624.57,90.50 624.99,85.55 625.68,87.65 626.40,83.05 626.75,84.37 627.30,78.77 627.81,80.36 628.19,77.60 628.58,79.01 629.30,73.67 629.63,77.31 630.20,70.59 630.57,73.90 631.30,68.21 631.81,70.03 632.18,65.14 632.59,67.75 633.34,58.63 633.91,63.72 634.31,55.58 635.08,59.10 635.46,54.75 636.21,60.00 636.81,49.47 637.30,56.12 637.89,50.60 638.26,55.61 638.97,47.62 639.49,52.50 640.26,44.89 640.60,48.80 641.07,43.55 641.50,49.44 641.97,41.92 642.58,50.27 643.25,41.15 643.92,47.30 644.47,42.87 644.91,47.52 645.43,41.78 646.18,48.58 646.68,43.96 647.17,47.31 647.57,43.62 648.02,49.21 648.78,41.48 649.52,45.49 650.12,43.02 650.48,43.85" fill="none" stroke="#aaaaaa" stroke-width="0.9" stroke-linejoin="miter" stroke-miterlimit="2"/>
</svg>
</body></html>
